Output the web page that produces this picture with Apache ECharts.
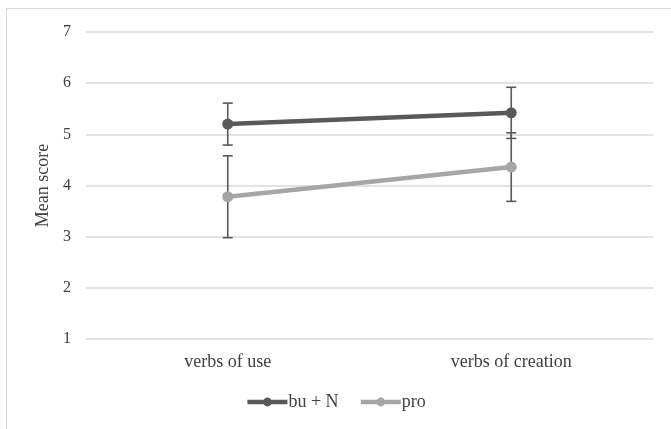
<!DOCTYPE html>
<html>
<head>
<meta charset="utf-8">
<script src="https://cdn.jsdelivr.net/npm/echarts@6/dist/echarts.min.js"></script>
<style>
  html, body { margin: 0; padding: 0; background: #fff; }
  #frame {
    position: absolute; left: 6px; top: 8px; width: 670px; height: 425px;
    border: 1px solid #d9d9d9; box-sizing: border-box;
  }
  #chart { position: absolute; left: 0; top: 0; width: 671px; height: 429px; }
</style>
</head>
<body>
<div id="frame"></div>
<div id="chart"></div>
<script>
// categories and mean scores with error bar half-widths
const categories = ["verbs of use", "verbs of creation"];
const buN = [5.2, 5.42];
const buNErr = [0.41, 0.5];
const pro = [3.78, 4.36];
const proErr = [0.8, 0.67];
const yTicks = [1, 7, 1]; // min, max, interval

const font = "'Liberation Serif', 'Times New Roman', serif";

function errData(means, errs) {
  return means.map((m, i) => [i, m - errs[i], m + errs[i]]);
}

function renderErr(params, api) {
  const x = api.value(0);
  const lo = api.coord([x, api.value(1)]);
  const hi = api.coord([x, api.value(2)]);
  const half = 5;
  const style = { stroke: "#595959", lineWidth: 1.6 };
  return {
    type: "group",
    children: [
      { type: "line", shape: { x1: lo[0], y1: lo[1], x2: hi[0], y2: hi[1] }, style },
      { type: "line", shape: { x1: lo[0] - half, y1: lo[1], x2: lo[0] + half, y2: lo[1] }, style },
      { type: "line", shape: { x1: hi[0] - half, y1: hi[1], x2: hi[0] + half, y2: hi[1] }, style },
    ],
  };
}

const chart = echarts.init(document.getElementById("chart"));
chart.setOption({
  animation: false,
  textStyle: { fontFamily: font },
  grid: { left: 86, right: 18, top: 32, bottom: 90 },
  legend: {
    bottom: 13,
    left: "center",
    itemWidth: 40,
    itemHeight: 11,
    itemGap: 20,
    lineStyle: { width: 4.5 },
    textStyle: { fontFamily: font, fontSize: 18, color: "#404040", padding: [0, 0, 0, -4] },
    data: ["bu + N", "pro"],
  },
  xAxis: {
    type: "category",
    data: categories,
    axisLine: { show: false },
    axisTick: { show: false },
    axisLabel: { fontFamily: font, fontSize: 18, color: "#404040", margin: 14 },
  },
  yAxis: {
    type: "value",
    min: yTicks[0],
    max: yTicks[1],
    interval: yTicks[2],
    name: "Mean score",
    nameLocation: "middle",
    nameGap: 32,
    nameTextStyle: { fontFamily: font, fontSize: 18, color: "#404040" },
    axisLine: { show: false },
    axisTick: { show: false },
    axisLabel: { fontFamily: font, fontSize: 16, color: "#404040", margin: 15 },
    splitLine: { lineStyle: { color: "#d9d9d9", width: 1.5 } },
  },
  series: [
    {
      type: "custom",
      name: "err-buN",
      renderItem: renderErr,
      data: errData(buN, buNErr),
      z: 1,
      silent: true,
    },
    {
      type: "custom",
      name: "err-pro",
      renderItem: renderErr,
      data: errData(pro, proErr),
      z: 1,
      silent: true,
    },
    {
      name: "bu + N",
      type: "line",
      data: buN,
      symbol: "circle",
      symbolSize: 11,
      lineStyle: { width: 4.5, color: "#595959" },
      itemStyle: { color: "#595959" },
      z: 3,
    },
    {
      name: "pro",
      type: "line",
      data: pro,
      symbol: "circle",
      symbolSize: 11,
      lineStyle: { width: 4.5, color: "#a6a6a6" },
      itemStyle: { color: "#a6a6a6" },
      z: 3,
    },
  ],
});
</script>
</body>
</html>
